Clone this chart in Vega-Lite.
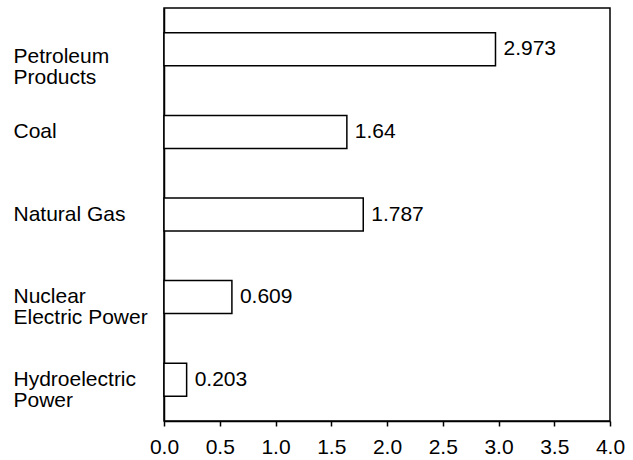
{
  "$schema": "https://vega.github.io/schema/vega-lite/v6.json",
  "width": 446,
  "height": 413,
  "padding": {"left": 164, "top": 8, "right": 23, "bottom": 39},
  "autosize": {"type": "none"},
  "background": "white",
  "config": {
    "view": {"stroke": "black", "strokeWidth": 1.5},
    "font": "Liberation Sans"
  },
  "data": {
    "values": [
      {"source": "Petroleum Products", "label": "Petroleum|Products", "value": 2.973},
      {"source": "Coal", "label": "Coal", "value": 1.64},
      {"source": "Natural Gas", "label": "Natural Gas", "value": 1.787},
      {"source": "Nuclear Electric Power", "label": "Nuclear|Electric Power", "value": 0.609},
      {"source": "Hydroelectric Power", "label": "Hydroelectric|Power", "value": 0.203}
    ]
  },
  "encoding": {
    "y": {
      "field": "label",
      "type": "nominal",
      "sort": null,
      "scale": {"paddingInner": 0.6, "paddingOuter": 0.3},
      "axis": {
        "title": null,
        "ticks": false,
        "domain": true,
        "domainColor": "black",
        "domainWidth": 1.5,
        "labelExpr": "split(datum.label, '|')",
        "labelAlign": "left",
        "labelPadding": 151,
        "labelFontSize": 21,
        "labelFontWeight": "normal",
        "labelColor": "black",
        "labelLineHeight": 21,
        "labelLimit": 200,
        "labelOffset": {"expr": "datum.value == 'Petroleum|Products' ? 8 : 0"}
      }
    },
    "x": {
      "field": "value",
      "type": "quantitative",
      "scale": {"domain": [0, 4], "nice": false},
      "axis": {
        "title": null,
        "values": [0, 0.5, 1, 1.5, 2, 2.5, 3, 3.5, 4],
        "format": ".1f",
        "grid": false,
        "tickSize": 5,
        "tickColor": "black",
        "tickWidth": 1.5,
        "domainColor": "black",
        "domainWidth": 1.5,
        "labelFontSize": 21,
        "labelFontWeight": "normal",
        "labelColor": "black",
        "labelPadding": 10,
        "labelFlush": false
      }
    }
  },
  "layer": [
    {
      "mark": {"type": "bar", "fill": "white", "stroke": "black", "strokeWidth": 1.5}
    },
    {
      "mark": {"type": "text", "align": "left", "dx": 8, "fontSize": 21, "fontWeight": "normal", "color": "black", "baseline": "middle"},
      "encoding": {"text": {"field": "value", "type": "quantitative"}}
    }
  ]
}
